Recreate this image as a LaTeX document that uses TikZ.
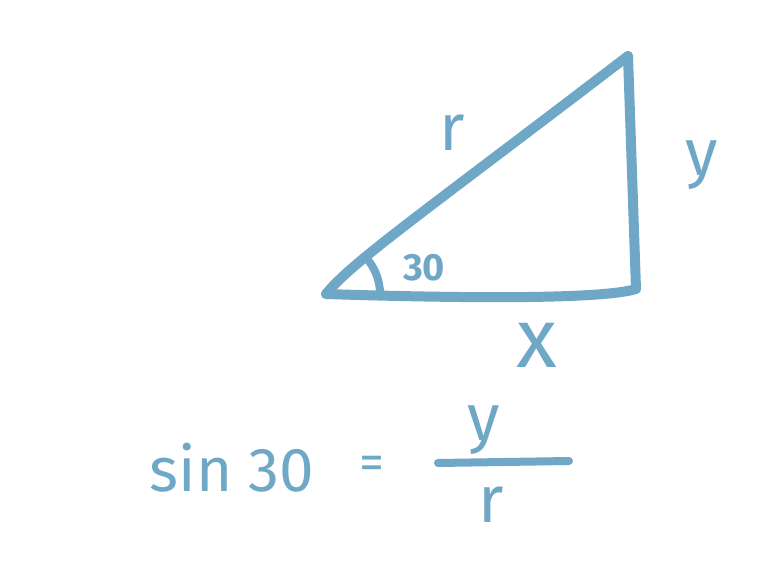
\documentclass[tikz,border=0pt]{standalone}
\usepackage{fontspec}
\setmainfont{Fira Sans}
\usepackage{xcolor}
\usetikzlibrary{positioning,calc}
\definecolor{ink}{HTML}{6FA8C6}

\begin{document}
\begin{tikzpicture}[
    x=1pt, y=-1pt,
    pen/.style={draw=ink, line width=10pt, line cap=round, line join=round},
    hand/.style={text=ink, inner sep=0pt, font=\fontsize{66}{66}\selectfont},
    small/.style={text=ink, inner sep=0pt, font=\fontsize{38}{38}\selectfont\bfseries}
]
    \useasboundingbox (0,0) rectangle (761,573);
    % Corners
    \coordinate (left) at (326,294);
    \coordinate (top) at (628,56);
    \coordinate (right) at (636,289);
    \coordinate (barL) at (438,463);
    \coordinate (barR) at (569,461);

    % Labels
    \node [hand] (r) at (452,133) {r};
    \node [hand] (y) at (702,165) {y};
    \node [hand, font=\fontsize{84}{84}\selectfont] (x) at (537,345) {x};
    \node [small] (angle) at (424,268) {30};
    \node [hand, font=\fontsize{62}{62}\selectfont] (sine) at (232,468) {sin 30};
    \node [hand, font=\fontsize{50}{50}\selectfont] (eq) at (372,468) {=};
    \node [hand] (num) at (484,430) {y};
    \node [hand] (den) at (491,505) {r};

    % Edges
    \path [pen] (left) .. controls (352,262) and (420,215) .. (top);
    \path [pen] (top) -- (right);
    \path [pen] (left) .. controls (450,298) and (600,300) .. (right);
    \path [pen, line width=8pt] (left) ++(54,0) arc [start angle=0, end angle=-38, radius=54];
    \path [pen, line width=8pt] (barL) -- (barR);
\end{tikzpicture}
\end{document}
